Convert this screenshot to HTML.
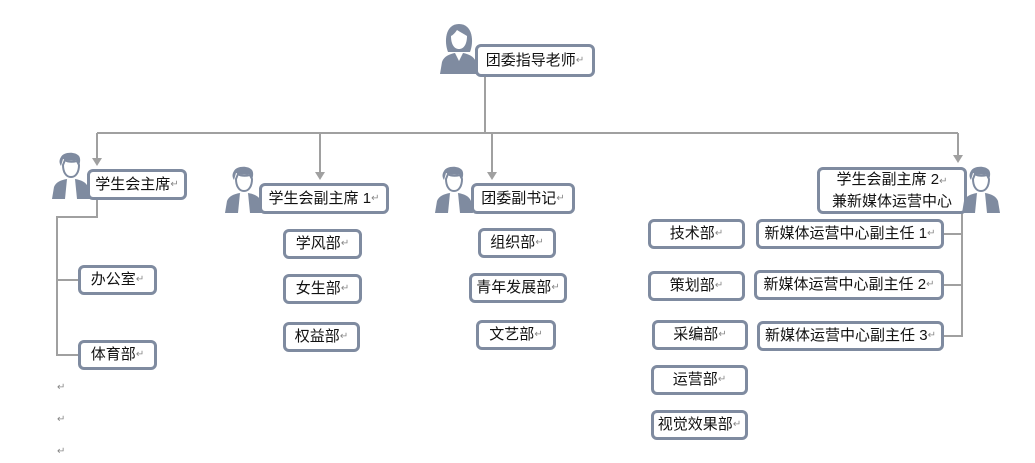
<!DOCTYPE html>
<html><head><meta charset="utf-8"><style>
body{margin:0;width:1035px;height:463px;background:#fff;position:relative;overflow:hidden;font-family:"Liberation Sans","Noto Sans CJK SC",sans-serif;}
.b{position:absolute;box-sizing:border-box;border:3px solid #7f8ba0;border-radius:6px;background:#fff;font-size:15px;color:#111;display:flex;align-items:center;justify-content:center;white-space:nowrap;line-height:18px;}
.b i{font-style:normal;color:#888;font-size:10px;}
.m{position:absolute;color:#888;font-size:10px;}
svg{position:absolute;left:0;top:0;}
</style></head><body>
<svg width="1035" height="463">
<g stroke="#a0a0a0" stroke-width="2" fill="none">
<path d="M485 77V133M97 133H958M97 133V160M320 133V174M492 133V174M958 133V157"/>
<path d="M97 199V217H57V355H78M57 280H78"/>
<path d="M962 212V336H944M962 234H944M962 285H944"/>
</g>
<g fill="#a0a0a0">
<path d="M92 158h10l-5 8z"/><path d="M315 172h10l-5 8z"/><path d="M487 172h10l-5 8z"/><path d="M953 155h10l-5 8z"/>
</g>
<defs>
<g id="man" fill="#7f8ba0">
<path d="M9 6c2-5 14-6 18-1 2 3 1 7 0 10l-2-6c-4 1-10 1-14-1l-2 7c-2-3-2-6 0-9z"/>
<path d="M11 14c0 7 3 12 8 12s8-5 8-12l-2-4c-4 1-9 1-12-1z" fill="#fff" stroke="#7f8ba0" stroke-width="2"/>
<path d="M0 48l2-12c2-5 7-7 13-8l4 12 4-12c6 1 11 3 13 8l2 12z"/>
<path d="M15 28l4 6 4-6 2 20h-12z" fill="#fff"/>
</g>
<g id="wom" fill="#7f8ba0">
<path d="M8 30c-4-10-3-28 11-28s15 18 11 28z"/>
<path d="M11 14c0 8 3 13 8 13s8-5 8-13c-3-2-7-4-10-6-2 3-4 5-6 6z" fill="#fff"/>
<path d="M0 52l2-12c2-6 8-8 13-9l4 8 4-8c5 1 11 3 13 9l2 12z"/>
</g>
</defs>
<use href="#wom" x="440" y="22"/>
<use href="#man" x="52" y="151"/>
<use href="#man" x="225" y="165"/>
<use href="#man" x="435" y="165"/>
</svg>
<div class="b" style="left:475px;top:44px;width:120px;height:33px">团委指导老师<i>↵</i></div>
<div class="b" style="left:87px;top:169px;width:100px;height:31px">学生会主席<i>↵</i></div>
<div class="b" style="left:259px;top:183px;width:130px;height:31px">学生会副主席 1<i>↵</i></div>
<div class="b" style="left:471px;top:183px;width:104px;height:31px">团委副书记<i>↵</i></div>
<div class="b" style="left:817px;top:167px;width:150px;height:47px;flex-direction:column;line-height:20px"><span>学生会副主席 2<i>↵</i></span><span>兼新媒体运营中心</span></div>
<svg width="1035" height="463"><use href="#man" x="962" y="165"/></svg>
<div class="b" style="left:78px;top:265px;width:79px;height:30px">办公室<i>↵</i></div>
<div class="b" style="left:78px;top:340px;width:79px;height:30px">体育部<i>↵</i></div>
<div class="b" style="left:283px;top:229px;width:79px;height:30px">学风部<i>↵</i></div>
<div class="b" style="left:283px;top:274px;width:79px;height:30px">女生部<i>↵</i></div>
<div class="b" style="left:283px;top:322px;width:77px;height:30px">权益部<i>↵</i></div>
<div class="b" style="left:478px;top:228px;width:78px;height:30px">组织部<i>↵</i></div>
<div class="b" style="left:469px;top:273px;width:98px;height:30px">青年发展部<i>↵</i></div>
<div class="b" style="left:476px;top:320px;width:80px;height:30px">文艺部<i>↵</i></div>
<div class="b" style="left:648px;top:219px;width:97px;height:30px">技术部<i>↵</i></div>
<div class="b" style="left:648px;top:271px;width:97px;height:30px">策划部<i>↵</i></div>
<div class="b" style="left:652px;top:320px;width:96px;height:30px">采编部<i>↵</i></div>
<div class="b" style="left:651px;top:365px;width:97px;height:30px">运营部<i>↵</i></div>
<div class="b" style="left:651px;top:410px;width:97px;height:30px">视觉效果部<i>↵</i></div>
<div class="b" style="left:756px;top:219px;width:188px;height:30px">新媒体运营中心副主任 1<i>↵</i></div>
<div class="b" style="left:754px;top:270px;width:190px;height:30px">新媒体运营中心副主任 2<i>↵</i></div>
<div class="b" style="left:757px;top:321px;width:187px;height:30px">新媒体运营中心副主任 3<i>↵</i></div>
<div class="m" style="left:57px;top:382px">↵</div>
<div class="m" style="left:57px;top:414px">↵</div>
<div class="m" style="left:57px;top:446px">↵</div>
</body></html>
